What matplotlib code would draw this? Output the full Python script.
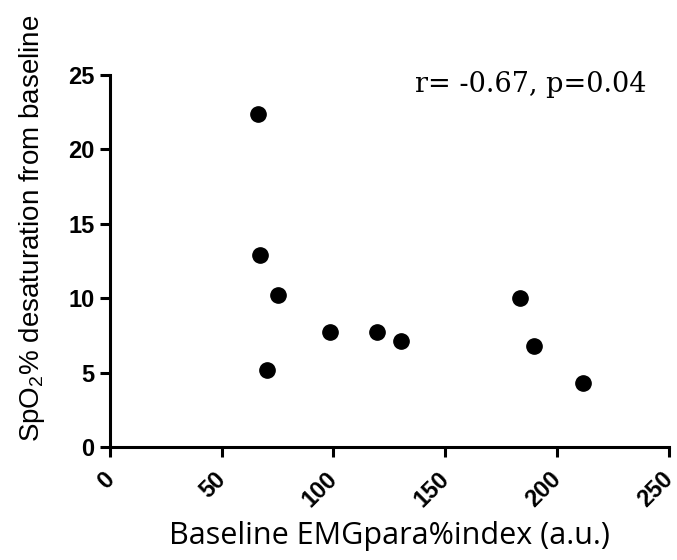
import matplotlib
matplotlib.use("Agg")
import matplotlib.pyplot as plt
import matplotlib.transforms as mtransforms

# values
emg = [66.2, 67.3, 75.4, 70.2, 98.7, 119.7, 130.1, 183.6, 189.5, 211.5]
desat = [22.4, 12.9, 10.2, 5.2, 7.7, 7.7, 7.1, 10.0, 6.8, 4.3]
xticks = [0, 50, 100, 150, 200, 250]
yticks = [0, 5, 10, 15, 20, 25]
stat_text = "r= -0.67, p=0.04"

plt.rcParams['mathtext.default'] = 'regular'

fig = plt.figure(figsize=(6.77, 5.6), dpi=100)
ax = fig.add_axes([0.162, 0.202, 0.826, 0.664])

ax.plot(emg, desat, 'o', color='black', markersize=11, linestyle='none', clip_on=False)

ax.set_xlim(0, 250)
ax.set_ylim(0, 25)
ax.set_xticks(xticks)
ax.set_yticks(yticks)

for s in ['top', 'right']:
    ax.spines[s].set_visible(False)
for s in ['left', 'bottom']:
    ax.spines[s].set_linewidth(2.2)

ax.tick_params(axis='both', length=7, width=2.2, direction='out', pad=4)
ax.tick_params(axis='x', pad=8)
ax.set_xticklabels([str(t) for t in xticks], rotation=45, ha='right', va='top',
                   fontsize=17, fontweight='bold', family='Liberation Sans')
ax.set_yticklabels([str(t) for t in yticks], fontsize=17, fontweight='bold',
                   family='Liberation Sans')
# nudge the rotated x labels right, like the original
shift = mtransforms.ScaledTranslation(0.09, 0, fig.dpi_scale_trans)
for lab in ax.get_xticklabels():
    lab.set_transform(lab.get_transform() + shift)

ax.set_ylabel("SpO$_2$% desaturation from baseline", fontsize=20,
              family='Liberation Sans')
ax.yaxis.set_label_coords(-0.112, 0.589)
ax.set_xlabel("Baseline EMGpara%index (a.u.)", fontsize=22, family='Open Sans')
ax.xaxis.set_label_coords(0.5, -0.198)

ax.text(0.546, 0.954, stat_text, transform=ax.transAxes, fontsize=19.5,
        family='DejaVu Serif', ha='left', va='baseline')

fig.savefig("out.png", dpi=100)
